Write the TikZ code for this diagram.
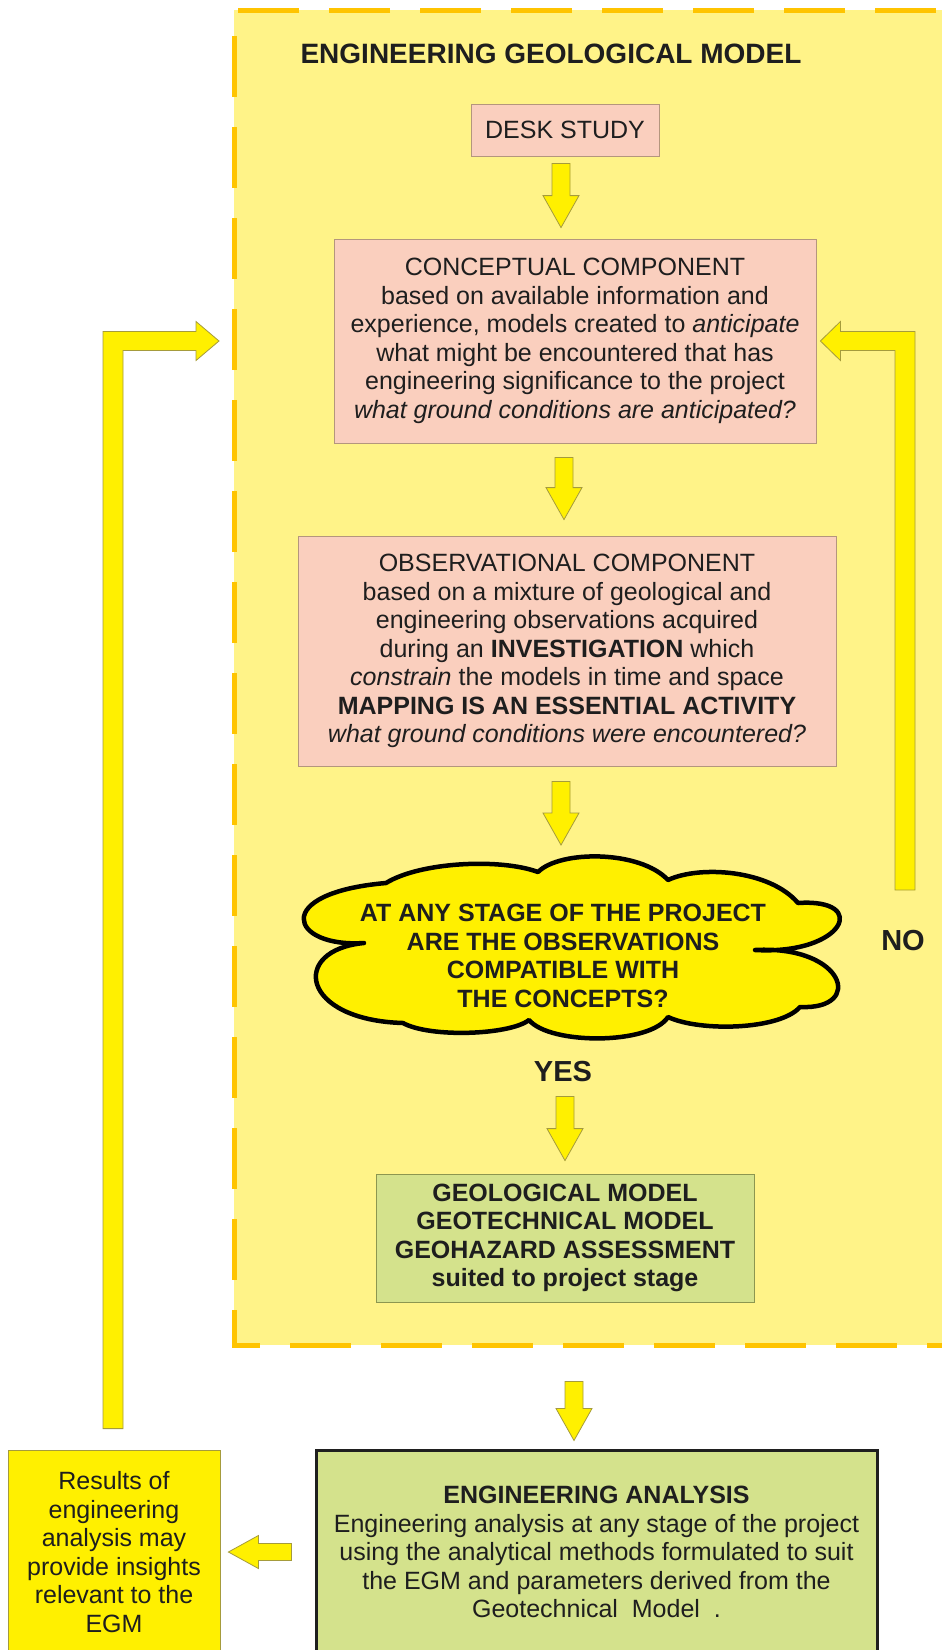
\documentclass[tikz,border=0pt]{standalone}
\usepackage{fontspec}
\setmainfont{Liberation Sans}
\usetikzlibrary{calc}

\definecolor{regionfill}{RGB}{255,243,136}
\definecolor{dashcol}{RGB}{255,196,0}
\definecolor{pinkfill}{RGB}{250,207,190}
\definecolor{pinkedge}{RGB}{180,150,125}
\definecolor{arrowfill}{RGB}{255,240,0}
\definecolor{arrowedge}{RGB}{165,155,60}
\definecolor{greenfill}{RGB}{212,226,140}
\definecolor{greenedge}{RGB}{140,150,80}
\definecolor{ink}{RGB}{30,30,30}

\newcommand\egmtext{\fontsize{25}{28.5}\selectfont}
\newcommand\egmbig{\fontsize{29}{32}\selectfont\bfseries}

% vertical block arrow: from #1 (top of shaft) down to tip at the height of #2
\newcommand\downblock[2]{%
  \draw[blk] let \p1=(#1), \p2=(#2) in
    (\x1-9pt,\y1) -- (\x1+9pt,\y1) -- (\x1+9pt,\y2+32pt) -- (\x1+18pt,\y2+32pt)
    -- (\x1,\y2) -- (\x1-18pt,\y2+32pt) -- (\x1-9pt,\y2+32pt) -- cycle;}
% horizontal block arrow pointing left: from #1 (shaft end) to tip #2
\newcommand\leftblock[2]{%
  \draw[blk] let \p1=(#1), \p2=(#2) in
    (\x1,\y1+8.5pt) -- (\x2+30pt,\y1+8.5pt) -- (\x2+30pt,\y1+16.5pt) -- (\x2,\y1)
    -- (\x2+30pt,\y1-16.5pt) -- (\x2+30pt,\y1-8.5pt) -- (\x1,\y1-8.5pt) -- cycle;}

\begin{document}
\begin{tikzpicture}[x=1pt,y=1pt,
  box/.style={draw=pinkedge, fill=pinkfill, line width=0.8pt, align=center,
    inner sep=0pt, text=ink, font=\egmtext},
  greenbox/.style={box, draw=greenedge, fill=greenfill},
  blk/.style={fill=arrowfill, draw=arrowedge, line width=0.8pt, line join=miter},
  label/.style={text=ink, font=\egmbig, inner sep=3pt}]

\path[use as bounding box, fill=white] (0,0) rectangle (942,-1650);
\begin{scope}
\clip (0,0) rectangle (942,-1650);

% engineering geological model region
\fill[regionfill] (234,-10) rectangle (960,-1345);
\node[minimum width=726pt, minimum height=1335pt, inner sep=0pt, anchor=north west] (egm) at (234,-10) {};

\node[text=ink, font=\fontsize{28}{31}\selectfont\bfseries] (title) at (551,-54) {ENGINEERING GEOLOGICAL MODEL};

\node[box, minimum width=188pt, minimum height=52pt] (desk) at (565,-130) {DESK STUDY};

\node[box, minimum width=482pt, minimum height=204pt] (concept) at (575,-341)
  {CONCEPTUAL COMPONENT\\
   based on available information and\\
   experience, models created to \textit{anticipate}\\
   what might be encountered that has\\
   engineering significance to the project\\
   \textit{what ground conditions are anticipated?}};

\node[box, minimum width=538pt, minimum height=230pt] (obs) at (567,-651)
  {OBSERVATIONAL COMPONENT\\
   based on a mixture of geological and\\
   engineering observations acquired\\
   during an \textbf{INVESTIGATION} which\\
   \textit{constrain} the models in time and space\\
   \textbf{MAPPING IS AN ESSENTIAL ACTIVITY}\\
   \textit{what ground conditions were encountered?}};

% decision cloud
\draw[fill=arrowfill, draw=black, line width=4.5pt, line join=round]
  (386,-883) .. controls (420,-862) and (500,-858) .. (538,-872)
  .. controls (560,-850) and (640,-850) .. (668,-880)
  .. controls (700,-865) and (770,-870) .. (798,-903)
  .. controls (870,-898) and (845,-955) .. (755,-950)
  .. controls (845,-945) and (865,-1010) .. (800,-1007)
  .. controls (780,-1030) and (700,-1032) .. (668,-1017)
  .. controls (650,-1045) and (550,-1045) .. (529,-1020)
  .. controls (510,-1035) and (430,-1038) .. (403,-1023)
  .. controls (300,-1020) and (290,-950) .. (364,-943)
  .. controls (290,-948) and (270,-893) .. (386,-883) -- cycle;
\coordinate (cloudtop) at (561,-862);
\node[align=center, text=ink, font=\fontsize{25}{28.5}\selectfont\bfseries] (cloud) at (563,-956)
  {AT ANY STAGE OF THE PROJECT\\ARE THE OBSERVATIONS\\COMPATIBLE WITH\\THE CONCEPTS?};

\node[label] (yes) at (563,-1072) {YES};
\node[label] (no) at (903,-941) {NO};
\coordinate (noloop) at (905,-890);

\node[greenbox, font=\egmtext\bfseries, minimum width=378pt, minimum height=128pt] (green) at (565,-1238)
  {GEOLOGICAL MODEL\\GEOTECHNICAL MODEL\\GEOHAZARD ASSESSMENT\\suited to project stage};

% dashed outline of the model region
\draw[dashcol, line width=5pt, dash pattern=on 61pt off 30pt, dash phase=67pt]
  (960,-10) -- (234,-10) -- (234,-1345) -- (960,-1345);

% analysis and feedback
\node[box, fill=greenfill, draw=black!88, line width=3pt, minimum width=561pt, minimum height=204pt] (analysis) at (596.5,-1552)
  {\textbf{ENGINEERING ANALYSIS}\\
   Engineering analysis at any stage of the project\\
   using the analytical methods formulated to suit\\
   the EGM and parameters derived from the\\
   Geotechnical\ \ Model\ \ .};

\node[box, fill=arrowfill, draw=arrowedge, minimum width=212pt, minimum height=204pt] (results) at (114,-1552)
  {Results of\\engineering\\analysis may\\provide insights\\relevant to the\\EGM};

% flow arrows
\downblock{$(desk.south)+(-4,-7)$}{$(concept.north)+(0,11)$}
\downblock{$(concept.south)+(-11,-14)$}{$(obs.north)+(0,16)$}
\downblock{$(obs.south)+(-6,-15)$}{$(cloudtop)+(0,17)$}
\downblock{$(yes.south)+(2,-11)$}{$(green.north)+(0,13)$}
\downblock{$(green.south)+(9,-79)$}{$(analysis.north)+(0,8)$}
\leftblock{$(analysis.west)+(-23,0)$}{$(results.east)+(8,0)$}

% feedback loop from the results back into the model
\draw[blk] let \p1=($(results.north)+(-1,21)$), \p2=($(egm.west|-concept.west)+(-15,0)$) in
  (\x1-10pt,\y1) -- (\x1-10pt,\y2+9.5pt) -- (\x2-23pt,\y2+9.5pt) -- (\x2-23pt,\y2+19.5pt)
  -- (\x2,\y2) -- (\x2-23pt,\y2-19.5pt) -- (\x2-23pt,\y2-9.5pt) -- (\x1+10pt,\y2-9.5pt)
  -- (\x1+10pt,\y1) -- cycle;

% "NO" loop back to the conceptual component
\draw[blk] let \p1=(noloop), \p2=($(concept.east)+(4,0)$) in
  (\x1+10pt,\y1) -- (\x1+10pt,\y2+9.5pt) -- (\x2+20pt,\y2+9.5pt) -- (\x2+20pt,\y2+19.5pt)
  -- (\x2,\y2) -- (\x2+20pt,\y2-19.5pt) -- (\x2+20pt,\y2-9.5pt) -- (\x1-10pt,\y2-9.5pt)
  -- (\x1-10pt,\y1) -- cycle;
\end{scope}
\end{tikzpicture}
\end{document}
